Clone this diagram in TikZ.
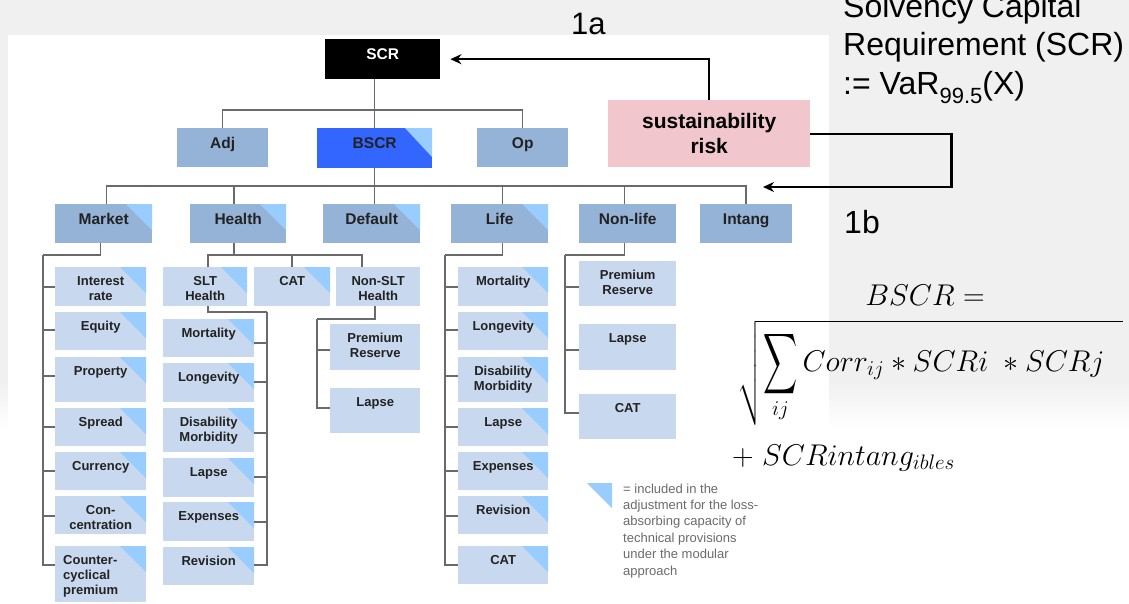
\RequirePackage{fix-cm}
\documentclass[tikz,border=0pt]{standalone}
\usepackage{graphicx}
\usepackage{amsmath}
\usepackage{fontspec}
\setmainfont{Liberation Sans}
\usetikzlibrary{arrows.meta,calc}
\definecolor{bgc}{HTML}{F0F0F0}
\definecolor{midb}{HTML}{95B3D7}
\definecolor{lightb}{HTML}{C8D8EE}
\definecolor{trifill}{HTML}{99CCFF}
\definecolor{bscrc}{HTML}{3366FF}
\definecolor{pinkc}{HTML}{F2C6CD}
\definecolor{connc}{HTML}{6A6A6A}
\definecolor{txtc}{HTML}{222222}
\definecolor{legc}{HTML}{6B6B6B}
\newcommand{\mlc}[1]{\begin{tabular}[t]{@{}c@{}}#1\end{tabular}}
\newcommand{\mll}[1]{\begin{tabular}[t]{@{}l@{}}#1\end{tabular}}
\tikzset{
  basebox/.style={draw=none, inner xsep=2pt, inner ysep=0pt, anchor=north west, text=txtc},
  topbox/.style={basebox, fill=midb, font=\fontsize{15.5}{18}\selectfont\bfseries, text height=20pt, text depth=19pt},
  cbox/.style={basebox, fill=lightb, font=\fontsize{13}{15}\selectfont\bfseries, text height=18.5pt},
  tri/.style={path picture={\fill[trifill] ([xshift=-26pt]path picture bounding box.north east) -- (path picture bounding box.north east) -- ([yshift=-26pt]path picture bounding box.north east) -- cycle;}},
  bigtri/.style={path picture={\fill[trifill] ([xshift=-27pt]path picture bounding box.north east) -- (path picture bounding box.north east) -- ([yshift=-29pt]path picture bounding box.north east) -- cycle;}},
  conn/.style={draw=connc, line width=1.5pt},
  arr/.style={draw=black, line width=2.3pt, -{Stealth[length=11pt,width=10pt]}},
  plain/.style={inner sep=0pt, anchor=base west},
}
\begin{document}
\begin{tikzpicture}[x=1pt,y=-1pt]
\useasboundingbox (0,0) rectangle (1129,603);
% background
\fill[bgc] (0,0) rectangle (1129,603);
\shade[top color=bgc, bottom color=white] (0,380) rectangle (1129,430);
\fill[white] (0,430) rectangle (1129,603);
\node[plain, font=\fontsize{31}{36}\selectfont] (l1a) at (571,34) {1a};
\fill[white] (8,35) rectangle (829,603);

% level 1
\node[basebox, fill=black, text=white, font=\fontsize{15.5}{18}\selectfont\bfseries, minimum width=115pt, text height=20pt, text depth=20pt] (scr) at (325,39) {SCR};
\node[topbox, minimum width=91pt] (adj) at (177,128) {Adj};
\node[topbox, fill=bscrc, bigtri, minimum width=115pt, text depth=20pt] (bscr) at (317,128) {BSCR};
\node[topbox, minimum width=91pt] (op) at (477,128) {Op};
\node[anchor=north west, fill=pinkc, minimum width=202pt, minimum height=67pt, inner sep=0pt, align=center, font=\fontsize{21}{25}\selectfont\bfseries] (sr) at (608,100) {sustainability\\risk};

% level 2
\node[topbox, tri, minimum width=97pt] (mkt) at (55,204) {Market};
\node[topbox, tri, minimum width=96pt] (hea) at (190,204) {Health};
\node[topbox, tri, minimum width=97pt] (def) at (323,204) {Default};
\node[topbox, tri, minimum width=97pt] (lif) at (451,204) {Life};
\node[topbox, minimum width=97pt] (nlf) at (579,204) {Non-life};
\node[topbox, minimum width=92pt] (int) at (700,204) {Intang};

% market children
\node[cbox, tri, minimum width=91pt, text depth=20.5pt] (ir) at (55,267) {\mlc{Interest\\rate}};
\node[cbox, tri, minimum width=91pt, text depth=19.5pt] (eq) at (55,312) {Equity};
\node[cbox, tri, minimum width=91pt, text depth=26.5pt] (prop) at (55,357) {Property};
\node[cbox, tri, minimum width=91pt, text depth=19.5pt] (spr) at (55,408) {Spread};
\node[cbox, tri, minimum width=91pt, text depth=19.5pt] (cur) at (55,452) {Currency};
\node[cbox, tri, minimum width=91pt, text depth=19.5pt] (con) at (55,496) {\mlc{Con-\\centration}};
\node[cbox, tri, minimum width=91pt, text depth=37.5pt] (ccp) at (55,546) {\makebox[75pt][l]{\mll{Counter-\\cyclical\\premium}}};

% health children
\node[cbox, tri, minimum width=84pt, text depth=20.5pt] (slt) at (163,267) {\mlc{SLT\\Health}};
\node[cbox, tri, minimum width=76pt, text depth=20.5pt] (cath) at (254,267) {CAT};
\node[cbox, minimum width=84pt, text depth=20.5pt] (nslt) at (336,267) {\mlc{Non-SLT\\Health}};

\node[cbox, tri, minimum width=91pt, text depth=19.5pt] (mor1) at (163,319) {Mortality};
\node[cbox, tri, minimum width=91pt, text depth=20.5pt] (lon1) at (163,363) {Longevity};
\node[cbox, tri, minimum width=91pt, text depth=25.5pt] (dis1) at (163,408) {\mlc{Disability\\Morbidity}};
\node[cbox, tri, minimum width=91pt, text depth=20.5pt] (lap1) at (163,458) {Lapse};
\node[cbox, tri, minimum width=91pt, text depth=20.5pt] (exp1) at (163,502) {Expenses};
\node[cbox, tri, minimum width=91pt, text depth=19.5pt] (rev1) at (163,547) {Revision};

\node[cbox, minimum width=90pt, text depth=27.5pt] (pr1) at (330,324) {\mlc{Premium\\Reserve}};
\node[cbox, minimum width=90pt, text depth=26.5pt] (lap2) at (330,388) {Lapse};

% life children
\node[cbox, tri, minimum width=90pt, text depth=20.5pt] (mor2) at (458,267) {Mortality};
\node[cbox, tri, minimum width=90pt, text depth=19.5pt] (lon2) at (458,312) {Longevity};
\node[cbox, tri, minimum width=90pt, text depth=26.5pt] (dis2) at (458,357) {\mlc{Disability\\Morbidity}};
\node[cbox, tri, minimum width=90pt, text depth=19.5pt] (lap3) at (458,408) {Lapse};
\node[cbox, tri, minimum width=90pt, text depth=19.5pt] (exp2) at (458,452) {Expenses};
\node[cbox, tri, minimum width=90pt, text depth=19.5pt] (rev2) at (458,496) {Revision};
\node[cbox, tri, minimum width=90pt, text depth=19.5pt] (cat2) at (458,546) {CAT};

% non-life children
\node[cbox, minimum width=97pt, text depth=26.5pt] (pr2) at (579,261) {\mlc{Premium\\Reserve}};
\node[cbox, minimum width=97pt, text depth=27.5pt] (lap4) at (579,324) {Lapse};
\node[cbox, minimum width=97pt, text depth=26.5pt] (cat3) at (579,394) {CAT};

% connectors top
\draw[conn] (scr.south -| bscr.north) -- (bscr.north);
\draw[conn] (adj.north) -- ++(0,-18) -| (op.north);
\draw[conn] (bscr.south) -- (bscr.south |- def.north);
\draw[conn] ([xshift=3pt]mkt.north) -- ++(0,-18) -| (int.north);
\draw[conn] ([xshift=-4pt]hea.north) -- ++(0,-18);
\draw[conn] ([xshift=3pt]lif.north) -- ++(0,-18);
\draw[conn] ([xshift=-3pt]nlf.north) -- ++(0,-18);

% market tree
\coordinate (mtop) at (43,255);
\draw[conn] ([xshift=-3pt]mkt.south) |- (mtop);
\draw[conn] (mtop) |- ([yshift=-20pt]ir.north west);
\draw[conn] (mtop) |- ([yshift=-18pt]eq.north west);
\draw[conn] (mtop) |- ([yshift=-19pt]prop.north west);
\draw[conn] (mtop) |- ([yshift=-19pt]spr.north west);
\draw[conn] (mtop) |- ([yshift=-19pt]cur.north west);
\draw[conn] (mtop) |- ([yshift=-20pt]con.north west);
\draw[conn] (mtop) |- ([yshift=-19pt]ccp.north west);

% health tree
\draw[conn] ([xshift=-4pt]hea.south) -- ++(0,12);
\draw[conn] ([xshift=3pt]slt.north) -- ++(0,-12) -| ([xshift=-16pt]nslt.north);
\draw[conn] (cath.north) -- ++(0,-12);
\coordinate (stop) at (267,312);
\draw[conn] ([xshift=3pt]slt.south) |- (stop);
\draw[conn] (stop) |- ([yshift=-24pt]mor1.north east);
\draw[conn] (stop) |- ([yshift=-19pt]lon1.north east);
\draw[conn] (stop) |- ([yshift=-25pt]dis1.north east);
\draw[conn] (stop) |- ([yshift=-19pt]lap1.north east);
\draw[conn] (stop) |- ([yshift=-20pt]exp1.north east);
\draw[conn] (stop) |- ([yshift=-18pt]rev1.north east);
\coordinate (ntop) at (317,319);
\draw[conn] ([xshift=-3pt]nslt.south) |- (ntop);
\draw[conn] (ntop) |- ([yshift=-26pt]pr1.north west);
\draw[conn] (ntop) |- ([yshift=-20pt]lap2.north west);

% life tree
\coordinate (ltop) at (445,255);
\draw[conn] ([xshift=3pt]lif.south) |- (ltop);
\draw[conn] (ltop) |- ([yshift=-20pt]mor2.north west);
\draw[conn] (ltop) |- ([yshift=-18pt]lon2.north west);
\draw[conn] (ltop) |- ([yshift=-19pt]dis2.north west);
\draw[conn] (ltop) |- ([yshift=-19pt]lap3.north west);
\draw[conn] (ltop) |- ([yshift=-19pt]exp2.north west);
\draw[conn] (ltop) |- ([yshift=-20pt]rev2.north west);
\draw[conn] (ltop) |- ([yshift=-19pt]cat2.north west);

% non-life tree
\coordinate (nltop) at (565,255);
\draw[conn] ([xshift=-3pt]nlf.south) |- (nltop);
\draw[conn] (nltop) |- ([yshift=-26pt]pr2.north west);
\draw[conn] (nltop) |- ([yshift=-26pt]lap4.north west);
\draw[conn] (nltop) |- ([yshift=-19pt]cat3.north west);

% sustainability arrows
\draw[arr] (sr.north) |- ([xshift=10pt]scr.east);
\coordinate (e1b) at (763,187);
\draw[arr] (sr.east) -- ++(141,0) |- (e1b);

% legend
\fill[trifill] (587,483) -- (612,483) -- (612,508) -- cycle;
\node[plain, text=legc, font=\fontsize{13}{16.4}\selectfont] (leg) at (623,493) {\mll{= included in the\\adjustment for the loss-\\absorbing capacity of\\technical provisions\\under the modular\\approach}};

% right texts
\node[plain, font=\fontsize{32}{38.5}\selectfont] (solv) at (843,17) {\mll{Solvency Capital\\Requirement (SCR)\\:= VaR\raisebox{-9pt}{\fontsize{22}{22}\selectfont 99.5}(X)}};
\node[plain, font=\fontsize{32}{36}\selectfont] (l1b) at (844,233) {1b};

% formula
\node[inner sep=0pt, anchor=base, font=\fontsize{30}{36}\selectfont] (fb) at (925,305) {$BSCR =$};
\node[inner sep=0pt, anchor=north west, font=\fontsize{30}{36}\selectfont] (fs) at (737,320) {$\displaystyle\sqrt{\mathop{\vcenter{\hbox{\scalebox{0.95}[1.7]{$\displaystyle\sum$}}}}\limits_{ij} Corr_{ij} * SCRi\ * SCRj\hspace{19pt}}$};
\node[plain, font=\fontsize{30}{36}\selectfont] (fp) at (732,465) {$+\;SCRintang_{ibles}$};
\end{tikzpicture}
\end{document}
